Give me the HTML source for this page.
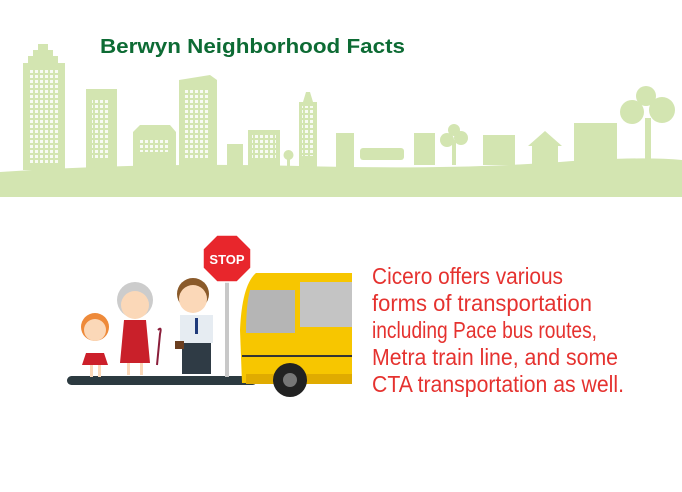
<!DOCTYPE html>
<html><head><meta charset="utf-8"><style>
html,body{margin:0;padding:0;background:#fff;}
svg{display:block;}
text{font-family:"Liberation Sans",sans-serif;}
</style></head><body>
<svg width="682" height="492" viewBox="0 0 682 492">
<defs><pattern id="w" width="5" height="5" patternUnits="userSpaceOnUse"><rect width="3" height="3" fill="#fff"/></pattern></defs>
<g fill="#d3e5b1">
  <path d="M23,170 L23,63 L28,63 L28,56 L33,56 L33,50 L38,50 L38,44 L48,44 L48,50 L53,50 L53,56 L58,56 L58,63 L65,63 L65,170Z"/>
  <rect x="86" y="89" width="31" height="80"/>
  <path d="M133,168 L133,132 L140,125 L170,125 L176,132 L176,168Z"/>
  <path d="M179,168 L179,80 L210,75 L217,80 L217,168Z"/>
  <rect x="227" y="144" width="16" height="24"/>
  <rect x="248" y="130" width="32" height="38"/>
  <rect x="287" y="155" width="3" height="12"/><circle cx="288.5" cy="155" r="5"/>
  <path d="M299,168 L299,102 L303,102 L306,92 L310,92 L313,102 L317,102 L317,168Z"/>
  <rect x="336" y="133" width="18" height="34"/>
  <rect x="360" y="148" width="44" height="12" rx="3"/>
  <rect x="414" y="133" width="21" height="32"/>
  <rect x="452" y="140" width="4" height="25"/><circle cx="447" cy="140" r="7"/><circle cx="461" cy="138" r="7"/><circle cx="454" cy="130" r="6"/>
  <rect x="483" y="135" width="32" height="30"/>
  <path d="M528,146 L545,131 L562,146 L558,146 L558,164 L532,164 L532,146Z"/>
  <rect x="574" y="123" width="43" height="42"/>
  <rect x="645" y="118" width="6" height="45"/><circle cx="632" cy="112" r="12"/><circle cx="662" cy="110" r="13"/><circle cx="646" cy="96" r="10"/>
  <path d="M0,172 Q150,162 300,166 Q450,170 560,162 Q640,156 682,160 L682,197 L0,197Z"/>
</g>
<g opacity="0.85">
  <rect x="28" y="68" width="32" height="95" fill="url(#w)"/>
  <rect x="92" y="100" width="18" height="60" fill="url(#w)"/>
  <rect x="138" y="140" width="32" height="12" fill="url(#w)"/>
  <rect x="184" y="88" width="26" height="70" fill="url(#w)"/>
  <rect x="252" y="135" width="24" height="25" fill="url(#w)"/>
  <rect x="302" y="106" width="12" height="50" fill="url(#w)"/>
</g>
<text x="100" y="53" font-size="20" font-weight="bold" fill="#0d6b34" textLength="305" lengthAdjust="spacingAndGlyphs">Berwyn Neighborhood Facts</text>

<g>
  <rect x="67" y="376" width="190" height="9" rx="4.5" fill="#2c3a40"/>
  <rect x="225" y="280" width="4" height="97" fill="#c8c8c8"/>
  <polygon points="217,235 237,235 251,249 251,268 237,282 217,282 203,268 203,249" fill="#e8262c" stroke="#fff" stroke-width="1.5"/>
  <text x="227" y="264" font-size="13" font-weight="bold" fill="#fff" text-anchor="middle">STOP</text>
  <g>
    <path d="M256,273 L352,273 L352,383 L242,383 L240,330 Q242,285 256,273Z" fill="#f7c600"/>
    <path d="M250,290 L295,290 L295,333 L246,333 Q246,305 250,290Z" fill="#b5b5b5"/>
    <rect x="300" y="282" width="52" height="45" fill="#c4c4c4"/>
    <rect x="242" y="355" width="110" height="2" fill="#333"/>
    <rect x="246" y="374" width="106" height="10" fill="#e0ab00"/>
    <circle cx="290" cy="380" r="17" fill="#222"/>
    <circle cx="290" cy="380" r="7" fill="#777"/>
  </g>
  <g>
    <circle cx="95" cy="327" r="14" fill="#ee8a3a"/>
    <circle cx="95" cy="330" r="11" fill="#fbd8b8"/>
    <rect x="88" y="343" width="14" height="10" fill="#fff"/>
    <path d="M86,353 L104,353 L108,365 L82,365Z" fill="#cc1f2a"/>
    <rect x="90" y="365" width="3" height="12" fill="#fbd8b8"/><rect x="98" y="365" width="3" height="12" fill="#fbd8b8"/>
  </g>
  <g>
    <circle cx="135" cy="300" r="18" fill="#ccc"/>
    <circle cx="135" cy="305" r="14" fill="#fbd8b8"/>
    <path d="M124,320 L146,320 L150,363 L120,363Z" fill="#c9202a"/>
    <rect x="127" y="363" width="3" height="12" fill="#fbd8b8"/><rect x="140" y="363" width="3" height="12" fill="#fbd8b8"/>
    <path d="M158,330 Q162,326 160,334 L157,365" stroke="#8a1d3a" stroke-width="2" fill="none"/>
  </g>
  <g>
    <circle cx="193" cy="294" r="16" fill="#8a5a2a"/>
    <circle cx="193" cy="299" r="14" fill="#fbd8b8"/>
    <rect x="180" y="315" width="33" height="28" fill="#e6ecf2"/>
    <rect x="195" y="318" width="3" height="16" fill="#1f3a7a"/>
    <rect x="182" y="343" width="29" height="31" fill="#2f3b45"/>
    <rect x="175" y="341" width="9" height="8" fill="#6b3e1f"/>
  </g>
</g>

<g fill="#e5322f" font-size="23">
  <text x="372" y="284" textLength="191" lengthAdjust="spacingAndGlyphs">Cicero offers various</text>
  <text x="372" y="311" textLength="220" lengthAdjust="spacingAndGlyphs">forms of transportation</text>
  <text x="372" y="338" textLength="225" lengthAdjust="spacingAndGlyphs">including Pace bus routes,</text>
  <text x="372" y="365" textLength="246" lengthAdjust="spacingAndGlyphs">Metra train line, and some</text>
  <text x="372" y="392" textLength="252" lengthAdjust="spacingAndGlyphs">CTA transportation as well.</text>
</g>
</svg>
</body></html>
